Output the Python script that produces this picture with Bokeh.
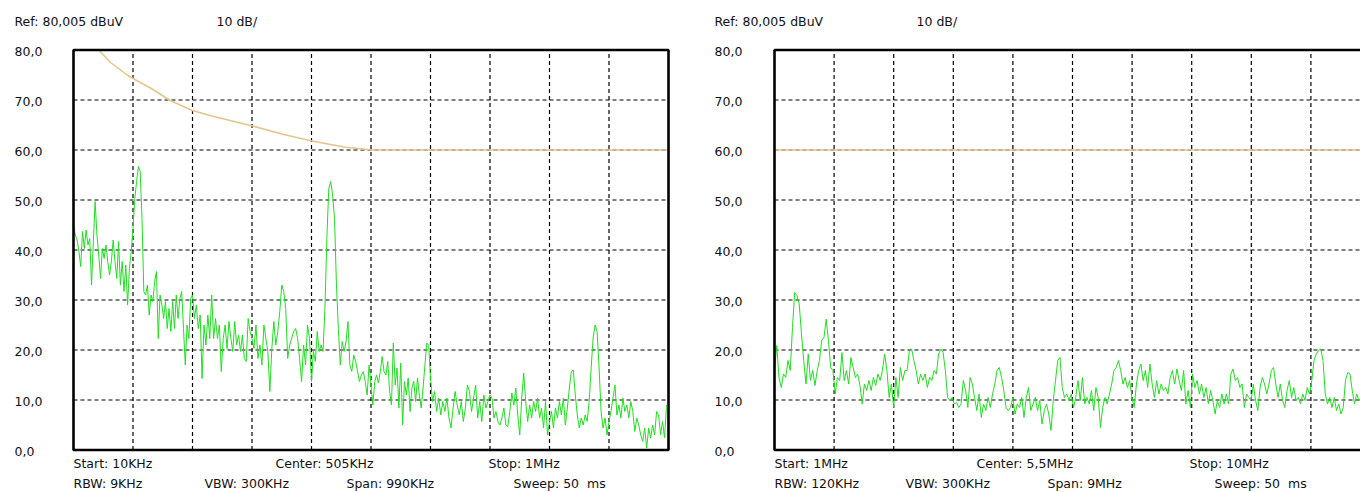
from bokeh.plotting import figure
from bokeh.models import Range1d
from bokeh.core.properties import value
from bokeh.embed import file_html
from bokeh.resources import INLINE

# ---------------- data ----------------
y_ticks = [0, 10, 20, 30, 40, 50, 60, 70, 80]
y_tick_labels = ["0,0", "10,0", "20,0", "30,0", "40,0", "50,0", "60,0", "70,0", "80,0"]

header_texts = ["Ref: 80,005 dBuV", "10 dB/"]

left_start, left_stop = 0.01, 1.0          # MHz
left_row1 = ["Start: 10KHz", "Center: 505KHz", "Stop: 1MHz"]
left_row2 = ["RBW: 9KHz", "VBW: 300KHz", "Span: 990KHz", "Sweep: 50\u00a0\u00a0ms"]

right_start, right_stop = 1.0, 10.0        # MHz
right_row1 = ["Start: 1MHz", "Center: 5,5MHz", "Stop: 10MHz"]
right_row2 = ["RBW: 120KHz", "VBW: 300KHz", "Span: 9MHz", "Sweep: 50\u00a0\u00a0ms"]

# limit line (dBuV) vs frequency (MHz)
left_limit_freq = [0.052, 0.0716, 0.0993, 0.112, 0.138, 0.171, 0.2075, 0.2435,
                   0.308, 0.360, 0.407, 0.460, 0.507, 1.0]
left_limit_db = [80.0, 77.5, 75.0, 74.1, 72.4, 69.9, 67.9, 66.7,
                 64.8, 63.1, 61.8, 60.6, 60.0, 60.0]
right_limit_freq = [1.0, 10.0]
right_limit_db = [60.0, 60.0]

# measured trace, left sweep (dBuV), listed per grid division
left_trace = [
    45.3, 43, 42, 39.7, 36.7, 43.7, 40.3, 44, 41, 42.3, 33, 41.7, 49.7, 43, 39, 34.3, 40.3,
    38.3, 41, 37.7, 35, 37.7, 42, 37.7, 34.3, 41.7, 33, 37.7, 31.7, 37, 29, 36.3, 39.7,
    44.3, 50.3, 53.7, 56.7, 55.7, 46.3, 31.7, 31, 33, 27, 31, 29.7, 33.7, 35.7, 22.3, 31,
    29, 26.3, 29.7, 24.3, 28.3, 23.7, 29.7, 24.3, 31, 26.3, 30.3, 31.7, 24.3, 17, 25, 22.3, 30.3,
    31, 26.3, 29, 24.3, 27, 14.3, 25, 21, 27, 22.3, 31, 22.3, 26.3, 22.3, 25, 15.7, 22.3,
    25, 20.3, 25.7, 22.3, 19.7, 25.7, 21, 23, 19.7, 23, 18.3, 17.7, 26.3, 23.7,
    22.3, 20.3, 25, 18.3, 21, 17, 25, 22.3, 19.7, 11.7, 20.3, 25.7, 21, 23.7, 27.7, 33,
    31.7, 28.3, 18.3, 21, 22.3, 23.7, 24.3, 22.3, 18.3, 13.7, 21, 17, 25, 22.3,
    13.7, 19.7, 17.7, 23.7, 19.7, 21, 19.7, 28.3, 42.3, 52.3, 53.7, 51, 46.3, 33, 24.3, 17,
    21.7, 19.7, 21.7, 25.7, 17, 15.7, 19, 17.7, 15.7, 13.7, 15, 15.7, 13.7, 11, 17,
    13, 9, 13.7, 15, 13.4, 15.7, 18.7, 15.7, 15, 17.7, 11.7, 9, 21.4, 13, 16.4, 8.4, 17.4,
    5, 13.7, 11, 14.4, 7.7, 12.4, 13.7, 9.7, 14.4, 11, 8.4, 12.4, 17, 21.4, 21,
    14.4, 9.7, 11.7, 7.7, 10.4, 7, 9.7, 7.7, 10.4, 6.4, 4.4, 8.4, 11.7, 9, 7, 9.7, 5.7,
    8.4, 13, 11.7, 7.7, 10.4, 13, 6.4, 9.7, 5.7, 11, 8.4, 9.7,
    11, 10.4, 6.4, 7.7, 5.7, 5, 6.4, 8.4, 5, 4.7, 7.7, 11.4, 9, 12.4, 7, 3, 10.4, 15.4,
    9.7, 5.7, 9, 6.4, 9.7, 7.7, 10.4, 6.4, 8.4, 4.4, 9.7, 3,
    5.7, 7.7, 4.4, 8.4, 6.4, 9.7, 7, 10.4, 5, 8.4, 12.4, 15.7, 16, 11, 7, 4.4, 6.4, 5, 7,
    5.7, 9.7, 16.4, 22.4, 25, 23.7, 16.4, 7.7, 4.4, 6.4, 3,
    5.7, 7.7, 10.4, 13, 7, 9, 6.4, 10.4, 7.7, 9, 6.4, 9.7, 7.7, 3.7, 6.4, 5, 3, 1.7, 4.4,
    0.4, 4.4, 2.4, 5, 3, 7.7, 7, 3, 5.7, 2.4, 9,
]
left_counts = [33, 33, 31, 30, 31, 32, 29, 30, 30, 30]

# measured trace, right sweep (dBuV); visible part 1 MHz .. ~9.86 MHz
right_trace = [
    15.9, 20.9, 14.5, 12.5, 15.2, 14.5, 17.9, 15.9, 24.5, 31.5, 30.9, 29.2, 23.2, 17.9,
    13.2, 19.2, 13.9, 15.9, 12.9, 15.9, 17.9, 21.9, 22.5, 26.2, 21.9, 16.5, 15.9,
    11.2, 14.5, 13.9, 19.5, 13.9, 15.9, 13.2, 18.5, 16.5, 14.5, 15.2, 12.9, 9.2, 13.2,
    11.9, 13.9, 11.9, 14.5, 12.9, 15.2, 13.9, 15.9, 19.2, 15.9, 10.5, 13.2, 8.5,
    14.5, 10.5, 16.5, 13.9, 15.9, 15.9, 19.9, 20.2, 17.9, 15.9, 13.2, 15.2, 13.9, 15.2,
    12.5, 14.5, 13.9, 15.9, 15.2, 19.2, 20.2, 19.5, 15.9, 10.5, 9.9, 10.5,
    9.2, 9.5, 8.5, 9.2, 13.9, 11.9, 8.5, 14.5, 13.2, 10.5, 7.9, 11.2, 6.5, 9.2, 7.9,
    10.5, 8.5, 11.2, 13.2, 15.9, 16.5, 14.5, 11.9, 8.5, 7.9, 8.5,
    10.5, 7.2, 9.2, 8.5, 10.5, 6.5, 10.5, 12.5, 7.9, 9.2, 10.5, 7.9, 9.9, 5.2, 7.9, 9.2,
    7.2, 3.9, 9.9, 13.9, 17.9, 18.5, 12.5, 10.5, 11.2, 9.9, 11.2,
    8.5, 10.5, 13.9, 9.9, 14.5, 9.2, 10.5, 9.2, 11.9, 7.9, 12.5, 10.5, 4.5, 8.5, 10.5,
    9.2, 11.2, 13.2, 15.9, 16.5, 17.9, 15.9, 13.2, 14.5, 12.5, 13.9, 10.5,
    8.5, 13.2, 15.9, 17.2, 13.9, 15.9, 12.5, 17.2, 13.2, 10.5, 13.9, 11.2, 13.2, 11.9,
    12.5, 11.2, 14.5, 15.9, 13.2, 16.2, 13.9, 11.9, 15.9, 9.2, 11.9, 8.5,
    15.2, 12.5, 13.9, 11.2, 13.2, 10.5, 12.5, 9.2, 11.9, 9.9, 7.2, 9.9, 8.5, 11.2, 9.2,
    11.2, 9.2, 15.2, 16.2, 13.9, 14.5, 12.5, 13.2, 8.5, 11.2, 10.5,
    9.9, 13.2, 9.9, 7.9, 12.5, 14.5, 13.2, 11.2, 13.2, 15.9, 16.5, 13.2, 10.5, 13.2, 9.9,
    8.5, 11.9, 13.9, 10.5, 12.5, 9.9, 10.5, 9.2, 11.2, 9.9, 12.5, 11.2,
    13.9, 17.9, 19.2, 19.9, 20.2, 17.9, 11.2, 9.2, 10.5, 8.5, 10.5, 7.9, 9.2, 7.2, 8.5,
    13.9, 15.5, 15.2, 11.9, 9.2, 11.2, 9.9, 10.5,
]
right_visible_stop = 9.86

# ---------------- layout / styling ----------------
W, H = 1360, 492
FONT = "DejaVu Sans"
FS = "12.5px"
TEXT_C = "#111111"
TRACE = "#22dd22"
LIMIT = "#e3c58c"
N_DIV = 10

# pixel geometry of the two screens (canvas coordinates)
Y_TOP_PX, Y_BOT_PX = 49.5, 449.5
L_LEFT_PX, L_WIDTH_PX = 73.0, 595.0
R_LEFT_PX, R_WIDTH_PX = 774.0, 596.0

db_per_px = 80.0 / (Y_BOT_PX - Y_TOP_PX)
y_end = 80.0 + Y_TOP_PX * db_per_px
y_start = y_end - H * db_per_px

sl = (left_stop - left_start) / L_WIDTH_PX
lx_start = left_start - L_LEFT_PX * sl
sr = (right_stop - right_start) / R_WIDTH_PX
rx_start = right_start - R_LEFT_PX * sr

p = figure(width=W, height=H,
           x_range=Range1d(lx_start, lx_start + W * sl),
           y_range=Range1d(y_start, y_end),
           x_axis_type=None, y_axis_type=None, toolbar_location=None,
           output_backend="svg", min_border=0,
           min_border_left=0, min_border_right=0, min_border_top=0, min_border_bottom=0,
           outline_line_color=None, background_fill_color="white",
           border_fill_color="white")
p.extra_x_ranges = {"right": Range1d(rx_start, rx_start + W * sr)}
p.grid.visible = False


def left_freqs():
    span = (left_stop - left_start) / N_DIV
    out = []
    for d, n in enumerate(left_counts):
        f0 = left_start + d * span
        for k in range(n):
            out.append(f0 + span * k / n)
    return out


def right_freqs():
    n = len(right_trace)
    return [right_start + (right_visible_stop - right_start) * k / (n - 1) for k in range(n)]


def y_at_px(py):
    return y_end - py * db_per_px


def draw_screen(rng, start, stop, step_px, freqs, trace, lim_f, lim_db,
                row1, row2, label_dx, ref_dx, div_dx):
    step = (stop - start) / N_DIV
    xt = [start + step * i for i in range(1, N_DIV)]
    p.segment(x0=xt, y0=[0] * len(xt), x1=xt, y1=[80] * len(xt), x_range_name=rng,
              line_color="black", line_dash="4 3", line_width=1.2)
    yt = y_ticks[1:-1]
    p.segment(x0=[start] * len(yt), y0=yt, x1=[stop] * len(yt), y1=yt, x_range_name=rng,
              line_color="black", line_dash="4 3", line_width=1.2)

    p.line(lim_f, lim_db, line_color=LIMIT, line_width=1.5, x_range_name=rng)
    p.line(freqs, trace, line_color=TRACE, line_width=1, x_range_name=rng)

    p.quad(left=[start], right=[stop], bottom=[0], top=[80], x_range_name=rng,
           fill_color=None, line_color="black", line_width=2.6)

    def fx(dx):
        return start + dx * step_px

    def txt(xs, ys, texts):
        p.text(x=xs, y=ys, text=texts, x_range_name=rng, text_font=value(FONT),
               text_font_size=value(FS), text_color=TEXT_C, text_align="left",
               text_baseline="middle")

    txt([fx(label_dx)] * len(y_ticks), [t - db_per_px for t in y_ticks], y_tick_labels)
    txt([fx(ref_dx), fx(div_dx)], [y_at_px(20.5)] * 2, header_texts)
    txt([fx(d) for d in (0, 202, 415)], [y_at_px(463)] * 3, row1)
    txt([fx(d) for d in (0, 131, 273, 440)], [y_at_px(483)] * 4, row2)


draw_screen("default", left_start, left_stop, sl, left_freqs(), left_trace,
            left_limit_freq, left_limit_db, left_row1, left_row2, -59, -59, 143)
draw_screen("right", right_start, right_stop, sr, right_freqs(), right_trace,
            right_limit_freq, right_limit_db, right_row1, right_row2, -60, -60, 142)

open("out.html", "w").write(file_html(p, INLINE))
